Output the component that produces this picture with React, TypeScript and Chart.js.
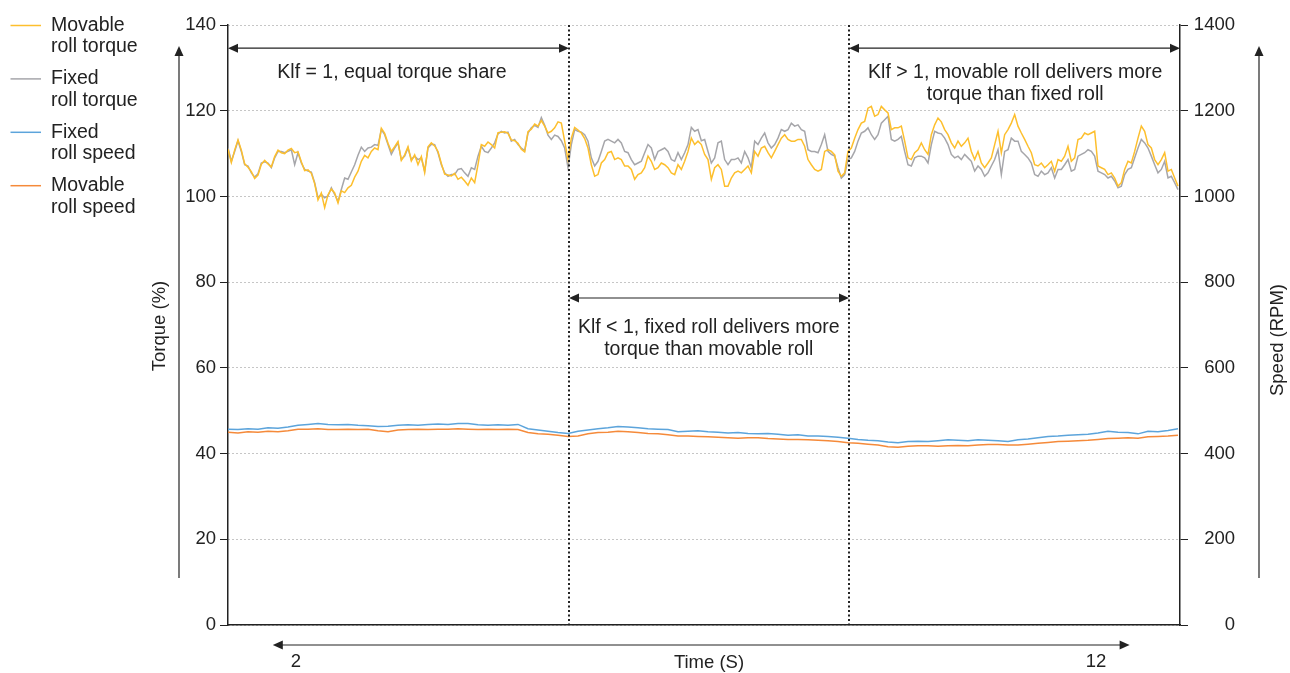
import { useEffect, useRef } from "react";
import { Chart, registerables } from "chart.js";

Chart.register(...registerables);

// ---------- data ----------
const LEGEND_LABELS = [
  ["Movable", "roll torque"],
  ["Fixed", "roll torque"],
  ["Fixed", "roll speed"],
  ["Movable", "roll speed"],
];
const SERIES_COLORS = ["#FDBF2D", "#A6A6AA", "#5CA4DB", "#F58A3A"];

// time grids (seconds)
const TORQUE_T0 = 1.15;
const TORQUE_DT = 1 / 24;
const SPEED_T0 = 1.15;
const SPEED_DT = 0.125;
const X_MIN = 1.15;
const X_MAX = 13.05;

// torque (%)
const MOVABLE_TORQUE = [
  111.0, 107.9, 110.8, 113.2, 110.8, 107.6, 106.8, 105.8, 104.2, 105.0,
  107.5, 108.4, 107.6, 106.9, 109.3, 110.8, 110.2, 110.0, 110.8, 111.2,
  110.2, 110.4, 108.1, 106.0, 106.2, 105.4, 103.0, 99.2, 100.8, 97.4,
  100.4, 101.7, 100.8, 98.5, 101.3, 100.9, 102.0, 102.6, 104.5, 105.9,
  108.2, 109.6, 109.0, 110.5, 111.3, 110.9, 115.9, 114.7, 112.4, 110.5,
  111.6, 112.8, 108.4, 109.7, 111.6, 108.3, 109.7, 107.4, 109.3, 105.6,
  111.6, 112.5, 111.8, 110.5, 107.7, 105.2, 105.0, 104.8, 105.4, 104.0,

  104.5, 103.6, 102.6, 104.3, 103.2, 107.4, 112.1, 111.7, 112.7, 112.1,
  111.3, 114.9, 115.0, 115.1, 114.7, 113.2, 113.0, 112.4, 111.0, 110.4,
  115.1, 115.7, 116.9, 116.4, 117.7, 116.4, 114.8, 115.2, 116.0, 117.4,
  117.1, 112.9, 108.6, 113.6, 116.1, 115.5, 114.8, 113.5, 111.3, 107.4,
  104.7, 105.1, 107.8, 108.6, 110.2, 110.5, 108.6, 109.0, 108.6, 107.1,
  107.1, 106.3, 104.0, 105.1, 105.5, 106.7, 109.4, 108.2, 106.3, 106.7,
  107.8, 107.4, 106.7, 105.5, 105.1, 107.4, 106.3, 108.2, 110.5, 113.6,
  112.1, 112.9,

  112.1, 109.8, 108.6, 104.0, 106.7, 107.4, 106.3, 102.4, 102.4, 104.3,
  105.5, 105.9, 105.5, 106.3, 107.1, 105.5, 110.5, 109.4, 111.3, 111.7,
  110.2, 109.0, 110.5, 112.1, 113.6, 114.4, 113.3, 112.9, 112.9, 113.3,
  113.3, 111.7, 108.6, 107.4, 106.3, 105.9, 106.3, 110.5, 110.9, 110.5,
  109.7, 105.9, 104.7, 105.5, 110.5, 111.3, 113.6, 115.6, 117.1, 117.5,
  120.6, 121.0, 118.7, 119.1, 121.0, 120.2, 119.5, 115.6, 116.0, 116.0,
  116.4, 112.9, 109.0, 108.6, 110.2, 110.9, 112.5, 110.9, 109.8, 114.4,
  116.7, 118.3,

  117.4, 115.6, 114.4, 112.5, 111.3, 112.9, 111.7, 112.5, 113.6, 110.5,
  108.6, 110.5, 107.8, 106.7, 107.8, 109.0, 112.1, 115.2, 110.2, 114.4,
  115.6, 117.1, 119.1, 116.4, 114.8, 113.3, 111.7, 110.2, 107.4, 107.1,
  107.8, 106.7, 107.4, 108.2, 105.9, 108.6, 108.2, 109.4, 111.7, 108.2,
  109.0, 113.3, 113.6, 114.8, 114.4, 114.8, 115.2, 107.1, 106.7, 106.3,
  105.1, 105.5, 104.3, 102.4, 103.2, 106.3, 108.2, 107.8, 110.5, 113.6,
  116.4, 115.2, 112.1, 111.3, 108.6, 107.4, 108.6, 110.2, 105.9, 106.3,
  104.3, 102.4,
];

const FIXED_TORQUE = [
  111.3, 108.2, 110.5, 113.0, 110.5, 107.4, 107.1, 105.5, 104.5, 105.3,
  107.8, 108.1, 107.8, 106.7, 109.0, 110.5, 110.5, 110.2, 110.5, 110.9,
  107.4, 110.2, 107.8, 106.3, 105.9, 105.7, 103.2, 99.7, 100.5, 99.7,
  100.1, 102.0, 100.5, 98.8, 101.6, 104.3, 104.0, 105.7, 107.4, 109.6,
  111.5, 110.5, 111.3, 111.5, 112.1, 111.9, 115.6, 114.4, 112.1, 109.8,
  111.3, 112.5, 108.6, 109.4, 111.3, 108.6, 109.4, 108.6, 109.0, 105.9,
  111.3, 112.2, 112.1, 110.2, 107.4, 105.5, 104.7, 105.1, 105.1, 106.3,

  106.5, 105.5, 104.7, 106.7, 106.3, 109.4, 111.7, 110.5, 110.2, 111.3,
  112.5, 114.6, 115.2, 114.8, 115.0, 112.9, 113.3, 112.1, 111.3, 110.7,
  114.8, 116.0, 116.6, 116.1, 118.4, 116.6, 114.3, 113.3, 114.3, 114.0,
  113.0, 111.3, 106.7, 112.1, 115.6, 115.2, 115.0, 114.4, 112.9, 109.0,
  107.1, 108.2, 110.5, 112.9, 113.3, 112.9, 112.5, 113.3, 112.5, 110.5,
  110.2, 108.6, 107.4, 107.8, 108.2, 110.2, 112.1, 111.3, 108.6, 110.5,
  110.9, 111.3, 110.5, 108.6, 108.2, 110.2, 108.6, 110.2, 112.1, 116.1,
  115.2, 115.6,

  113.0, 113.3, 110.5, 107.8, 109.0, 112.5, 112.9, 108.6, 107.4, 108.6,
  108.6, 109.0, 107.8, 110.5, 109.0, 106.7, 112.9, 112.1, 113.6, 114.8,
  112.5, 111.3, 112.1, 113.6, 115.6, 115.2, 115.6, 117.1, 116.4, 116.7,
  115.6, 115.2, 110.9, 110.5, 110.5, 110.2, 112.1, 114.4, 110.5, 109.8,
  109.4, 106.7, 104.3, 105.1, 108.6, 109.0, 110.5, 112.9, 114.8, 115.2,
  116.0, 114.4, 113.3, 114.4, 117.1, 117.9, 118.7, 113.3, 112.9, 113.3,
  114.0, 110.5, 107.4, 107.1, 109.0, 109.4, 109.4, 109.0, 107.8, 112.1,
  115.2, 114.8,

  114.6, 113.6, 112.1, 109.8, 109.0, 109.4, 108.6, 109.8, 109.0, 108.2,
  105.9, 107.1, 106.3, 104.7, 105.5, 107.1, 108.6, 110.9, 105.1, 110.5,
  110.9, 113.6, 112.9, 112.9, 110.5, 109.8, 109.0, 107.8, 105.1, 104.7,
  105.9, 105.1, 105.5, 106.7, 104.3, 106.3, 106.3, 107.4, 108.6, 105.9,
  106.3, 109.4, 109.8, 110.2, 110.9, 110.5, 109.4, 105.9, 105.5, 105.1,
  104.3, 104.7, 103.6, 102.0, 102.4, 105.1, 106.3, 106.7, 109.0, 111.3,
  113.3, 112.5, 111.3, 109.4, 107.4, 105.5, 106.3, 108.2, 104.3, 104.7,
  103.2, 101.6,
];

// speed (RPM)
const FIXED_SPEED = [
  457, 456, 458, 457, 460, 459, 462, 466, 468, 470,
  468, 467, 468, 466, 465, 463, 464, 466, 467, 466,
  468, 469, 468, 470, 470, 467, 466, 467, 466, 468,
  458, 455, 452, 449, 447, 452, 455, 458, 460, 463,
  462, 460, 458, 457, 456, 451, 452, 453, 451, 450,
  448, 449, 447, 446, 447, 445, 443, 444, 441, 441,
  440, 438, 436, 433, 431, 430, 427, 425, 428, 429,
  428, 430, 432, 431, 430, 432, 431, 430, 428, 432,
  434, 437, 440, 441, 443, 444, 445, 448, 452, 450,
  449, 446, 452, 451, 454, 458,
];
const MOVABLE_SPEED = [
  450, 448, 451, 450, 452, 451, 453, 457, 457, 458,
  456, 456, 457, 456, 457, 453, 451, 455, 456, 457,
  456, 457, 457, 458, 457, 456, 457, 456, 457, 456,
  449, 446, 445, 443, 440, 441, 446, 449, 450, 452,
  451, 449, 447, 446, 444, 441, 441, 440, 439, 438,
  437, 436, 437, 437, 435, 434, 433, 433, 432, 431,
  430, 428, 425, 424, 422, 420, 416, 415, 417, 418,
  418, 417, 418, 419, 418, 420, 421, 421, 420, 420,
  422, 424, 426, 428, 429, 430, 431, 433, 435, 436,
  437, 436, 439, 440, 441, 443,
];

const TORQUE_TICK_STEP = 20;
const TORQUE_MAX = 140;
const SPEED_TICK_STEP = 200;
const SPEED_MAX = 1400;
const X_TICK_LABELS = [2, 12];
const DIVIDERS = [5.4125, 8.9125];

// annotation config (torque units / seconds)
const TOP_ARROW_Y = 134.6;
const MID_ARROW_Y = 76.3;
const NOTES = [
  { t: 3.2, lines: ["Klf = 1, equal torque share"], y: 128.8 },
  { t: 7.16, lines: ["Klf < 1, fixed roll delivers more", "torque than movable roll"], y: 69.3 },
  { t: 10.99, lines: ["Klf > 1, movable roll delivers more", "torque than fixed roll"], y: 128.8 },
];
const TIME_ARROW = [1.71, 12.42];

const FONT = "'Liberation Sans', Arial, Helvetica, sans-serif";
const TEXT = "#222";
const TEXT_SIZE = 19.5;

function buildXY(t0: number, dt: number, vals: number[]) {
  return vals.map((v, i) => ({ x: t0 + i * dt, y: v }));
}

function arrowHead(ctx: CanvasRenderingContext2D, x: number, y: number, dir: "l" | "r" | "u") {
  const L = 10, W = 4.5;
  ctx.beginPath();
  if (dir === "l") { ctx.moveTo(x, y); ctx.lineTo(x + L, y - W); ctx.lineTo(x + L, y + W); }
  else if (dir === "r") { ctx.moveTo(x, y); ctx.lineTo(x - L, y - W); ctx.lineTo(x - L, y + W); }
  else { ctx.moveTo(x, y); ctx.lineTo(x - W, y + L); ctx.lineTo(x + W, y + L); }
  ctx.closePath();
  ctx.fill();
}

function hArrow(ctx: CanvasRenderingContext2D, x1: number, x2: number, y: number) {
  ctx.beginPath();
  ctx.moveTo(x1 + 4, y);
  ctx.lineTo(x2 - 4, y);
  ctx.stroke();
  arrowHead(ctx, x1, y, "l");
  arrowHead(ctx, x2, y, "r");
}

const decorPlugin = {
  id: "decor",
  afterDraw(chart: any) {
    const { ctx, chartArea: ca, scales } = chart;
    const x = scales.x, y = scales.y;
    ctx.save();

    // dividers
    ctx.strokeStyle = TEXT;
    ctx.lineWidth = 2;
    ctx.setLineDash([2, 2.5]);
    DIVIDERS.forEach((t) => {
      const px = Math.round(x.getPixelForValue(t));
      ctx.beginPath();
      ctx.moveTo(px, ca.top);
      ctx.lineTo(px, ca.bottom);
      ctx.stroke();
    });
    ctx.setLineDash([]);

    // arrows
    ctx.fillStyle = TEXT;
    ctx.strokeStyle = TEXT;
    ctx.lineWidth = 1.2;
    const d1 = Math.round(x.getPixelForValue(DIVIDERS[0]));
    const d2 = Math.round(x.getPixelForValue(DIVIDERS[1]));
    const ty = y.getPixelForValue(TOP_ARROW_Y);
    hArrow(ctx, ca.left, d1, ty);
    hArrow(ctx, d2, ca.right, ty);
    hArrow(ctx, d1, d2, y.getPixelForValue(MID_ARROW_Y));

    // vertical arrows beside axes
    const va = (px: number) => {
      ctx.beginPath();
      ctx.moveTo(px, ca.bottom - 47);
      ctx.lineTo(px, ca.top + 28);
      ctx.stroke();
      arrowHead(ctx, px, ca.top + 21, "u");
    };
    va(179);
    va(1259);

    // bottom time arrow
    const by = ca.bottom + 20;
    hArrow(ctx, x.getPixelForValue(TIME_ARROW[0]), x.getPixelForValue(TIME_ARROW[1]), by);

    // text
    ctx.font = `${TEXT_SIZE}px ${FONT}`;
    ctx.fillStyle = TEXT;
    ctx.textBaseline = "middle";
    ctx.textAlign = "center";
    NOTES.forEach((n) => {
      const cx = x.getPixelForValue(n.t);
      const cy = y.getPixelForValue(n.y);
      n.lines.forEach((ln, i) => ctx.fillText(ln, cx, cy + i * 22));
    });

    ctx.font = `18.5px ${FONT}`;
    X_TICK_LABELS.forEach((t) => ctx.fillText(String(t), x.getPixelForValue(t), ca.bottom + 37));
    ctx.fillText("Time (S)", (ca.left + ca.right) / 2 + 5, ca.bottom + 38);

    // axis titles
    ctx.save();
    ctx.translate(160, 326);
    ctx.rotate(-Math.PI / 2);
    ctx.fillText("Torque (%)", 0, 0);
    ctx.restore();
    ctx.save();
    ctx.translate(1278, 340);
    ctx.rotate(-Math.PI / 2);
    ctx.fillText("Speed (RPM)", 0, 0);
    ctx.restore();

    // legend
    ctx.font = `${TEXT_SIZE}px ${FONT}`;
    ctx.textAlign = "left";
    LEGEND_LABELS.forEach((lines, i) => {
      const cy = 25.5 + i * 53.4;
      ctx.strokeStyle = SERIES_COLORS[i];
      ctx.lineWidth = 1.5;
      ctx.beginPath();
      ctx.moveTo(10.5, cy);
      ctx.lineTo(41, cy);
      ctx.stroke();
      ctx.fillStyle = TEXT;
      lines.forEach((ln, j) => ctx.fillText(ln, 51, cy + j * 21.5));
    });

    ctx.restore();
  },
};

export default function App() {
  const ref = useRef<HTMLCanvasElement | null>(null);

  useEffect(() => {
    if (!ref.current) return;
    const tickFont = { family: FONT, size: 18.5 };
    const chart = new Chart(ref.current, {
      type: "line",
      data: {
        datasets: [
          { label: LEGEND_LABELS[0].join(" "), data: buildXY(TORQUE_T0, TORQUE_DT, MOVABLE_TORQUE), borderColor: SERIES_COLORS[0], yAxisID: "y" },
          { label: LEGEND_LABELS[1].join(" "), data: buildXY(TORQUE_T0, TORQUE_DT, FIXED_TORQUE), borderColor: SERIES_COLORS[1], yAxisID: "y" },
          { label: LEGEND_LABELS[2].join(" "), data: buildXY(SPEED_T0, SPEED_DT, FIXED_SPEED), borderColor: SERIES_COLORS[2], yAxisID: "y1" },
          { label: LEGEND_LABELS[3].join(" "), data: buildXY(SPEED_T0, SPEED_DT, MOVABLE_SPEED), borderColor: SERIES_COLORS[3], yAxisID: "y1" },
        ].map((d) => ({ ...d, borderWidth: 1.5, pointRadius: 0, tension: 0, fill: false })),
      },
      options: {
        animation: false,
        responsive: false,
        devicePixelRatio: 1,
        layout: { padding: { top: 25, right: 55, left: 0, bottom: 0 } },
        plugins: { legend: { display: false }, tooltip: { enabled: false } },
        scales: {
          x: {
            type: "linear",
            min: X_MIN,
            max: X_MAX,
            ticks: { display: false },
            grid: { display: false },
            border: { display: true, color: TEXT, width: 1.5 },
            afterFit: (s: any) => { s.height = 48; },
          },
          y: {
            position: "left",
            min: 0,
            max: TORQUE_MAX,
            ticks: { stepSize: TORQUE_TICK_STEP, color: TEXT, font: tickFont, padding: 4, callback: (v: any) => String(v) },
            grid: { color: "#8c8c8c", lineWidth: 1, tickLength: 8, tickColor: TEXT, tickWidth: 1 },
            border: { display: true, color: TEXT, width: 1.5, dash: [1, 3] },
            afterFit: (s: any) => { s.width = 228; },
          },
          y1: {
            position: "right",
            min: 0,
            max: SPEED_MAX,
            ticks: { stepSize: SPEED_TICK_STEP, color: TEXT, font: tickFont, padding: 4, crossAlign: "far", callback: (v: any) => String(v) },
            grid: { drawOnChartArea: false, tickLength: 8, tickColor: TEXT, tickWidth: 1 },
            border: { display: true, color: TEXT, width: 1.5 },
            afterFit: (s: any) => { s.width = 55; },
          },
        },
      },
      plugins: [decorPlugin],
    } as any);
    return () => chart.destroy();
  }, []);

  return (
    <div style={{ position: "fixed", left: 0, top: 0, width: 1290, height: 673, background: "#fff" }}>
      <canvas ref={ref} width={1290} height={673} style={{ width: 1290, height: 673, display: "block" }} />
    </div>
  );
}
